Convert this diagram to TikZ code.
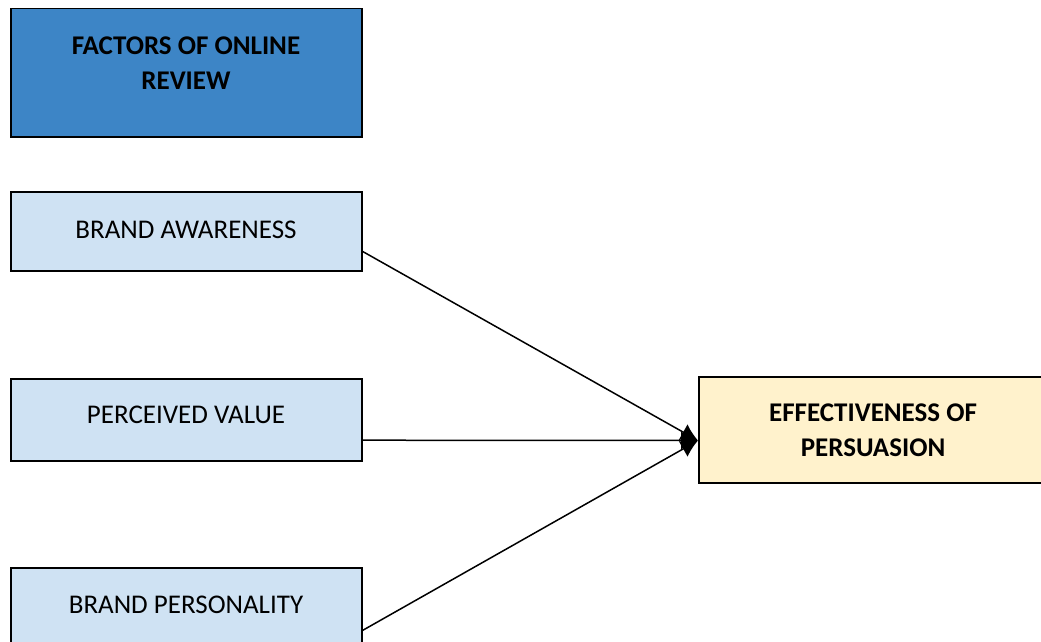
\documentclass[tikz,border=0pt]{standalone}
\usepackage{fontspec}
\setmainfont{Carlito}
\usetikzlibrary{arrows.meta,calc}
\definecolor{darkblue}{HTML}{3D85C6}
\definecolor{lightblue}{HTML}{CFE2F3}
\definecolor{lightyellow}{HTML}{FFF2CC}
\tikzset{
  box/.style={draw=black, line width=1.5pt, rectangle, inner sep=0pt, anchor=north west, minimum width=351pt},
  lbl/.style={font=\fontsize{27}{35}\selectfont, align=center, inner sep=0pt},
  blbl/.style={lbl, font=\fontsize{27}{35}\selectfont\bfseries},
  conn/.style={line width=1.5pt, -{Latex[length=17pt,width=18pt]}}
}
\begin{document}
\begin{tikzpicture}[x=1pt,y=-1pt]
\useasboundingbox (0,0) rectangle (1041,642);
\clip (0,0) rectangle (1041,642);
\node[box, fill=darkblue, minimum height=128pt] (f) at (10,8) {};
\node[box, fill=lightblue, minimum height=79pt] (aw) at (10,191) {};
\node[box, fill=lightblue, minimum height=82pt] (pv) at (10,378) {};
\node[box, fill=lightblue, minimum height=82pt] (bp) at (10,567) {};
\node[box, fill=lightyellow, minimum height=106pt] (eff) at (698,376) {};
\node[blbl] (ft) at (186,63) {FACTORS OF ONLINE\\REVIEW};
\node[lbl] (awt) at (186,230) {BRAND AWARENESS};
\node[lbl] (pvt) at (186,415) {PERCEIVED VALUE};
\node[lbl] (bpt) at (186,605) {BRAND PERSONALITY};
\node[blbl] (efft) at (873,430) {EFFECTIVENESS OF\\PERSUASION};
\coordinate (tgt) at ($(eff.north west)!0.6!(eff.south west)$);
\draw[conn] ($(aw.north east)!0.75!(aw.south east)$) -- (tgt);
\draw[conn] ($(pv.north east)!0.745!(pv.south east)$) -- (tgt);
\draw[conn] ($(bp.north east)!0.76!(bp.south east)$) -- (tgt);
\end{tikzpicture}
\end{document}
